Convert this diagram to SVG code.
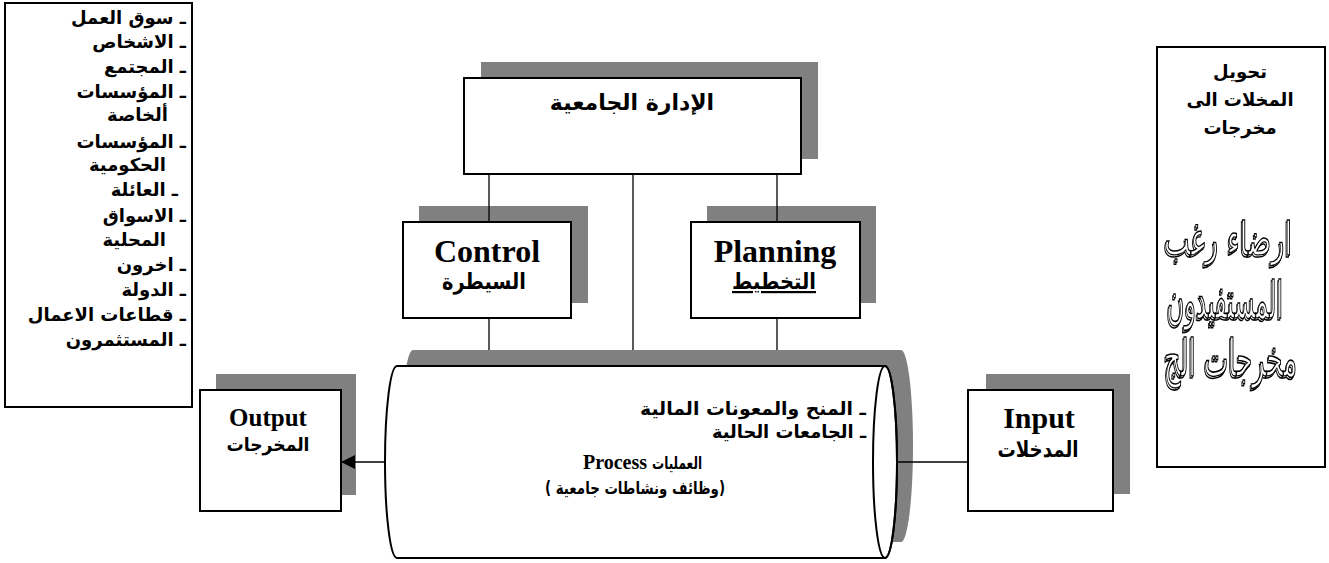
<svg xmlns="http://www.w3.org/2000/svg" width="1329" height="563" viewBox="0 0 1329 563">
<style>
.box{fill:#fff;stroke:#000;stroke-width:2}
.sh{fill:#808080}
.ln{stroke:#000;stroke-width:1.3;fill:none}
.ar{font-family:"DejaVu Sans",sans-serif;font-weight:bold;fill:#000}
.en{font-family:"Liberation Serif",serif;font-weight:bold;fill:#000}
.ol{font-family:"DejaVu Sans",sans-serif;font-size:34px;fill:#fff;stroke:#000;stroke-width:1.1;text-anchor:end}
.l{font-size:18px;text-anchor:end}
</style>
<defs>
<marker id="ah" markerWidth="14" markerHeight="14" refX="14" refY="7" orient="auto" markerUnits="userSpaceOnUse">
<path d="M0,0 L14,7 L0,14 Z" fill="#000"/>
</marker>
<filter id="osh" x="-10%" y="-20%" width="120%" height="140%">
<feOffset in="SourceGraphic" dx="-1.5" dy="1.5" result="o"/>
<feMerge><feMergeNode in="o"/><feMergeNode in="SourceGraphic"/></feMerge>
</filter>
</defs>
<rect width="1329" height="563" fill="#fff"/>

<g id="stakeholders">
<rect class="box" x="5" y="3" width="187" height="404"/>
<text class="ar l" x="186" y="24">ـ سوق العمل</text>
<text class="ar l" x="186" y="48">ـ الاشخاص</text>
<text class="ar l" x="186" y="73">ـ المجتمع</text>
<text class="ar l" x="186" y="98">ـ المؤسسات</text>
<text class="ar l" x="168" y="121">ألخاصة</text>
<text class="ar l" x="186" y="148">ـ المؤسسات</text>
<text class="ar l" x="166" y="171">الحكومية</text>
<text class="ar l" x="178" y="196">ـ العائلة</text>
<text class="ar l" x="186" y="222">ـ الاسواق</text>
<text class="ar l" x="166" y="246">المحلية</text>
<text class="ar l" x="186" y="271">ـ اخرون</text>
<text class="ar l" x="186" y="296">ـ الدولة</text>
<text class="ar l" x="186" y="321">ـ قطاعات الاعمال</text>
<text class="ar l" x="186" y="346">ـ المستثمرون</text>
</g>

<g id="management">
<rect class="sh" x="481" y="62" width="337" height="97"/>
<rect class="box" x="464" y="78" width="337" height="96"/>
<text class="ar" x="632" y="110" font-size="22" text-anchor="middle">الإدارة الجامعية</text>
</g>

<g id="control">
<rect class="sh" x="419" y="206" width="169" height="97"/>
<rect class="box" x="403" y="222" width="168" height="96"/>
<text class="en" x="487" y="262" font-size="32" text-anchor="middle">Control</text>
<text class="ar" x="484" y="289" font-size="22" text-anchor="middle" textLength="84" lengthAdjust="spacingAndGlyphs">السيطرة</text>
</g>

<g id="planning">
<rect class="sh" x="707" y="206" width="169" height="97"/>
<rect class="box" x="691" y="222" width="169" height="96"/>
<text class="en" x="775" y="262" font-size="32" text-anchor="middle">Planning</text>
<text class="ar" x="774" y="289" font-size="22" text-anchor="middle" text-decoration="underline" textLength="84" lengthAdjust="spacingAndGlyphs">التخطيط</text>
</g>

<g id="process">
<path class="sh" d="M413,350 L901,350 A12,96 0 0 1 901,542 L413,542 A12,96 0 0 1 413,350 Z"/>
<path class="box" d="M397,366 L885,366 A12,96 0 0 1 885,558 L397,558 A12,96 0 0 1 397,366 Z"/>
<ellipse cx="885" cy="462" rx="12" ry="96" fill="none" stroke="#000" stroke-width="2"/>
<text class="ar" x="866" y="415" font-size="18" text-anchor="end" textLength="226" lengthAdjust="spacingAndGlyphs">ـ المنح والمعونات المالية</text>
<text class="ar" x="866" y="438" font-size="18" text-anchor="end" textLength="154" lengthAdjust="spacingAndGlyphs">ـ الجامعات الحالية</text>
<text x="583" y="469"><tspan class="en" font-size="20">Process </tspan><tspan class="ar" font-size="17" textLength="50" lengthAdjust="spacingAndGlyphs">العمليات</tspan></text>
<text class="ar" x="635" y="494" font-size="17" text-anchor="middle" direction="rtl" textLength="180" lengthAdjust="spacingAndGlyphs">(وظائف ونشاطات جامعية )</text>
</g>

<g id="output">
<rect class="sh" x="216" y="374" width="140" height="121"/>
<rect class="box" x="200" y="390" width="141" height="121"/>
<text class="en" x="268" y="426" font-size="25" text-anchor="middle">Output</text>
<text class="ar" x="268" y="451" font-size="19" text-anchor="middle" textLength="83" lengthAdjust="spacingAndGlyphs">المخرجات</text>
</g>

<g id="input">
<rect class="sh" x="986" y="374" width="144" height="120"/>
<rect class="box" x="968" y="390" width="145" height="121"/>
<text class="en" x="1039" y="428" font-size="30" text-anchor="middle">Input</text>
<text class="ar" x="1038" y="457" font-size="22" text-anchor="middle" textLength="81" lengthAdjust="spacingAndGlyphs">المدخلات</text>
</g>

<g id="transform">
<rect class="box" x="1157" y="47" width="168" height="420"/>
<text class="ar" x="1240" y="78" font-size="18" text-anchor="middle">تحويل</text>
<text class="ar" x="1240" y="106" font-size="18" text-anchor="middle">المخلات الى</text>
<text class="ar" x="1240" y="134" font-size="18" text-anchor="middle">مخرجات</text>
<g filter="url(#osh)">
<g transform="translate(1292,255) scale(1,1.35)"><text class="ol" x="0" y="0" textLength="128" lengthAdjust="spacingAndGlyphs">ارضاء رغب</text></g>
<g transform="translate(1283,318) scale(1,1.5)"><text class="ol" x="0" y="0" font-size="30" textLength="116" lengthAdjust="spacingAndGlyphs">المستفيدون</text></g>
<g transform="translate(1297,376) scale(1,1.5)"><text class="ol" x="0" y="0" font-size="30" textLength="133" lengthAdjust="spacingAndGlyphs">مخرجات الج</text></g>
</g>
</g>

<g id="connectors">
<line class="ln" x1="489" y1="174" x2="489" y2="222"/>
<line class="ln" x1="489" y1="318" x2="489" y2="350"/>
<line class="ln" x1="633" y1="174" x2="633" y2="350"/>
<line class="ln" x1="777" y1="174" x2="777" y2="222"/>
<line class="ln" x1="777" y1="318" x2="777" y2="350"/>
<line class="ln" x1="385" y1="462" x2="341" y2="462" marker-end="url(#ah)"/>
<line class="ln" x1="897" y1="462" x2="968" y2="462"/>
</g>
</svg>
